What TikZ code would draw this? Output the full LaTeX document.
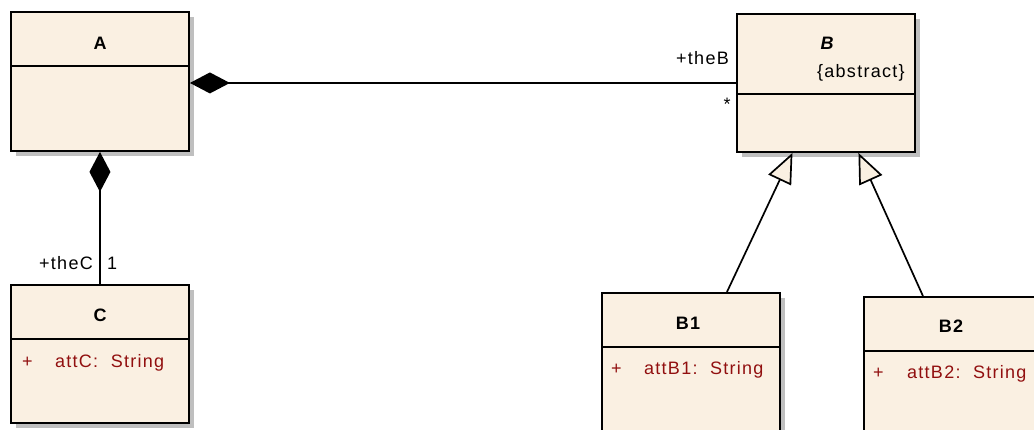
\documentclass[tikz,border=0pt]{standalone}
\usepackage{fontspec}
\setmainfont{Liberation Sans}[LetterSpace=7]
\usetikzlibrary{arrows.meta}
\usetikzlibrary{shadows}

\definecolor{classbg}{RGB}{250,240,226}
\definecolor{attred}{RGB}{145,15,15}
\newcommand\umlfont{\fontsize{18}{21}\selectfont}

\tikzset{
  classbox/.style={draw, line width=1.9pt, fill=classbg, minimum width=178pt, inner sep=0pt,
    anchor=north west, general shadow={fill=black!25, shadow xshift=5pt, shadow yshift=-5pt}},
  lbl/.style={inner sep=0pt, font=\umlfont},
  ttl/.style={inner sep=0pt, anchor=base, font=\umlfont\bfseries},
  attr/.style={inner sep=0pt, anchor=base west, text=attred, font=\umlfont},
  comp/.style={line width=1.7pt, -{Diamond[length=40pt, width=21pt]}},
  inherit/.style={line width=1.7pt, -{Triangle[open, fill=classbg, length=30pt, width=25pt]}}
}

\begin{document}
\begin{tikzpicture}[x=1pt,y=-1pt]
  \useasboundingbox (0,0) rectangle (1034,430);
  \newcommand\umlclass[5]{% name, left, top, height, title height
    \node[classbox, minimum height=#4pt] (#1) at (#2,#3) {};
    \draw[line width=1.9pt] ([yshift=-#5pt]#1.north west) -- ([yshift=-#5pt]#1.north east);
  }

% classes
  \umlclass{A}{10}{11}{139}{55}
  \umlclass{B}{736}{13}{138}{81}
  \umlclass{C}{10}{284}{138}{55}
  \umlclass{B1}{601}{292}{150}{55}
  \umlclass{B2}{863}{296}{150}{55}

% names and attributes
  \node[ttl] (Atitle) at (100,50) {A};
  \node[ttl] (Btitle) at (827,50) {\itshape B};
  \node[lbl, anchor=base west] (Bstereo) at (817,78) {\{abstract\}};
  \node[ttl] (Ctitle) at (100,322) {C};
  \node[attr] (attC) at (22,367) {\makebox[33pt][l]{+}attC:\ \ String};
  \node[ttl] (B1title) at (688,330) {B1};
  \node[attr] (attB1) at (611,375) {\makebox[33pt][l]{+}attB1:\ \ String};
  \node[ttl] (B2title) at (951,333) {B2};
  \node[attr] (attB2) at (873,378) {\makebox[34pt][l]{+}attB2:\ \ String};

% composition
  \draw[comp] (B.west) -- (B.west -| A.east);
  \draw[comp] (C.north) -- (A.south);
  \node[lbl, anchor=base east] (theB) at (729,65) {+theB};
  \node[lbl, anchor=base] (multB) at (727,111) {*};
  \node[lbl, anchor=base east] (theC) at (93,270) {+theC};
  \node[lbl, anchor=base west] (multC) at (107,270) {1};

% generalization
  \draw[inherit] ([xshift=36pt]B1.north) -- ([xshift=-33.5pt]B.south);
  \draw[inherit] ([xshift=-30pt]B2.north) -- ([xshift=32.5pt]B.south);
\end{tikzpicture}
\end{document}
